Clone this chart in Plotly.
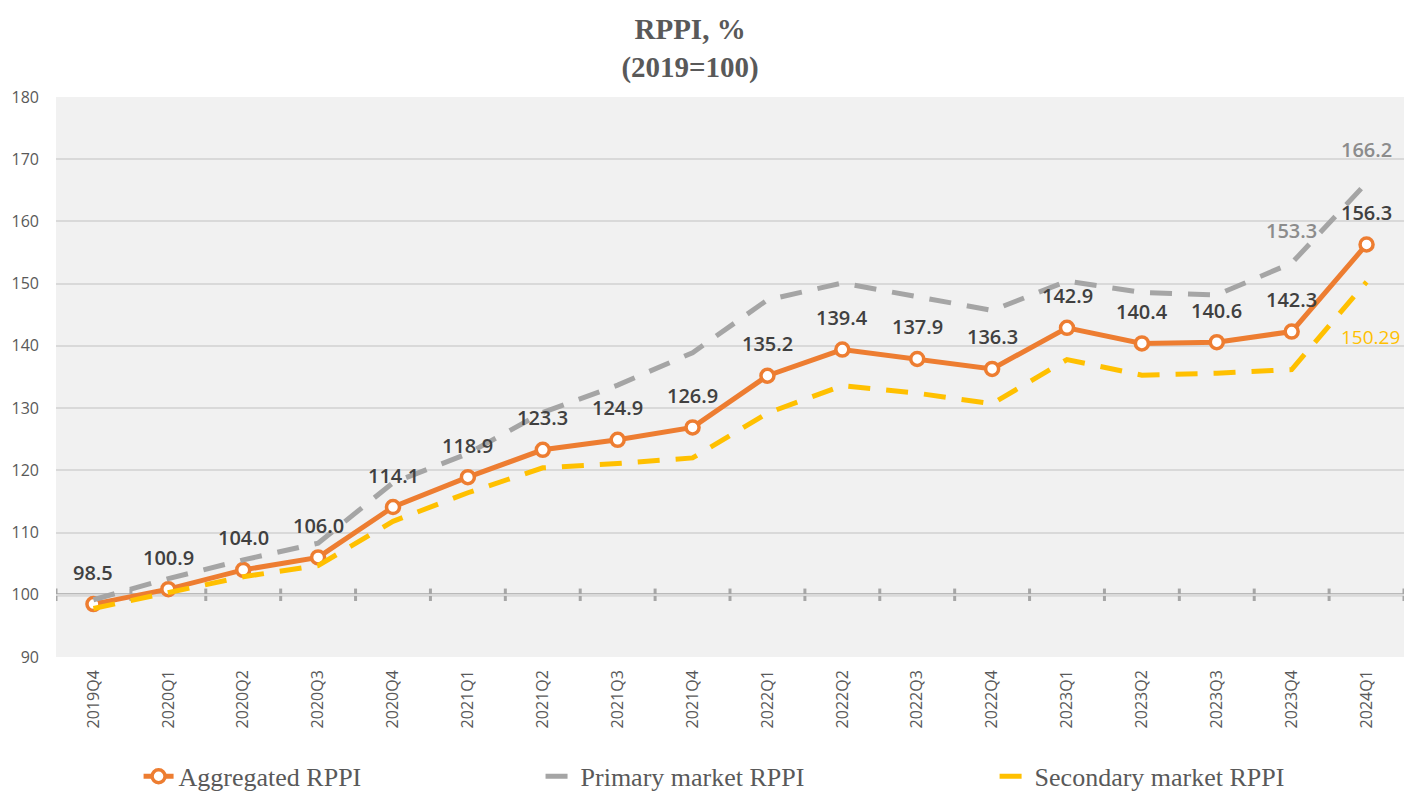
import plotly.graph_objects as go

categories = ["2019Q4", "2020Q1", "2020Q2", "2020Q3", "2020Q4", "2021Q1", "2021Q2", "2021Q3",
              "2021Q4", "2022Q1", "2022Q2", "2022Q3", "2022Q4", "2023Q1", "2023Q2", "2023Q3",
              "2023Q4", "2024Q1"]
aggregated = [98.5, 100.9, 104.0, 106.0, 114.1, 118.9, 123.3, 124.9, 126.9, 135.2, 139.4, 137.9,
              136.3, 142.9, 140.4, 140.6, 142.3, 156.3]
primary = [99.2, 102.6, 105.6, 108.3, 118.0, 122.7, 129.3, 133.7, 138.9, 147.4, 150.1, 148.0,
           145.7, 150.4, 148.6, 148.2, 153.3, 166.2]
secondary = [97.8, 100.3, 102.9, 104.7, 111.8, 116.4, 120.4, 121.1, 122.0, 129.2, 133.6, 132.4,
             130.7, 137.8, 135.3, 135.6, 136.2, 150.29]
primary_labelled = [16, 17]
secondary_labelled = [17]
y_ticks = [90, 100, 110, 120, 130, 140, 150, 160, 170, 180]

ORANGE = "#ED7D31"
GREY = "#A5A5A5"
YELLOW = "#FFC000"
SANS = "Open Sans"
SERIF = "Liberation Serif"

x = list(range(len(categories)))

fig = go.Figure()
fig.add_trace(go.Scatter(
    x=x, y=aggregated, name="Aggregated RPPI", mode="lines+markers",
    line=dict(color=ORANGE, width=5),
    marker=dict(symbol="circle", size=13, color="white", line=dict(color=ORANGE, width=3.5)),
    legend="legend", cliponaxis=False))
fig.add_trace(go.Scatter(
    x=x, y=primary, name="Primary market RPPI", mode="lines",
    line=dict(color=GREY, width=5, dash="22px,16px"), legend="legend2"))
fig.add_trace(go.Scatter(
    x=x, y=secondary, name="Secondary market RPPI", mode="lines",
    line=dict(color=YELLOW, width=5, dash="22px,16px"), legend="legend3"))

annotations = []
for i, v in enumerate(aggregated):
    annotations.append(dict(x=i, y=v, text=f"{v:.1f}", showarrow=False, yshift=32,
                            font=dict(family=SANS, size=20, color="#404040", weight=600)))
for i in primary_labelled:
    annotations.append(dict(x=i, y=primary[i], text=f"{primary[i]:.1f}", showarrow=False, yshift=33,
                            font=dict(family=SANS, size=20, color="#8C8C8C", weight=600)))
for i in secondary_labelled:
    annotations.append(dict(x=i, y=secondary[i], text=f"{secondary[i]:.2f}", showarrow=False,
                            yshift=-55, xshift=4,
                            font=dict(family=SANS, size=19, color=YELLOW, weight=500)))

shapes = [dict(type="line", xref="paper", x0=0, x1=1, yref="y", y0=100, y1=100,
               line=dict(color="#A6A6A6", width=3), layer="below")]
for i in range(len(categories) + 1):
    shapes.append(dict(type="line", xref="x", x0=i - 0.5, x1=i - 0.5, yref="y", y0=99.0, y1=101.0,
                       line=dict(color="#A6A6A6", width=3), layer="below"))

legend_common = dict(orientation="h", xref="container", yref="container", yanchor="middle", y=0.021,
                     font=dict(family=SERIF, size=26, color="#595959"), bgcolor="rgba(0,0,0,0)")

fig.update_layout(
    width=1404, height=793,
    margin=dict(l=56, r=0, t=97, b=136),
    paper_bgcolor="white", plot_bgcolor="#F1F1F1",
    title=dict(text="<b>RPPI, %</b><br><b>(2019=100)</b>", xref="container", x=0.4915, xanchor="center",
               yref="container", y=1 - 39 / 793, yanchor="middle",
               font=dict(family=SERIF, size=29, color="#595959")),
    xaxis=dict(range=[-0.5, len(categories) - 0.5], tickmode="array", tickvals=x, ticktext=categories,
               tickangle=-90, showgrid=False, zeroline=False, showline=False, ticks="",
               ticklabelstandoff=9, tickfont=dict(family=SANS, size=16, color="#595959"),
               automargin=False),
    yaxis=dict(range=[90, 180], tickmode="array", tickvals=y_ticks, showgrid=True,
               gridcolor="#D9D9D9", gridwidth=2, zeroline=False, showline=False, ticks="",
               ticklabelstandoff=16, tickfont=dict(family=SANS, size=16, color="#595959"),
               automargin=False),
    showlegend=True,
    legend=dict(x=0.0987, xanchor="left", **legend_common),
    legend2=dict(x=0.385, xanchor="left", **legend_common),
    legend3=dict(x=0.7084, xanchor="left", **legend_common),
    annotations=annotations,
    shapes=shapes,
)

fig.write_html("out.html", config={"displayModeBar": False},
               post_script="document.body.style.margin='0';document.body.style.overflow='hidden';")
